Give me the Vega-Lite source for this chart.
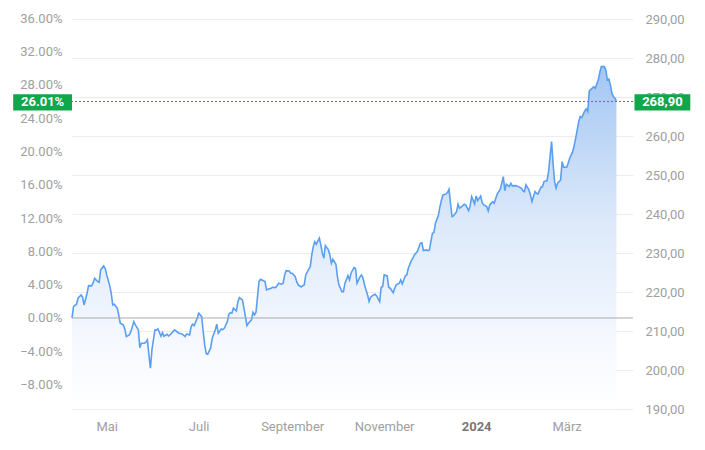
{
  "$schema": "https://vega.github.io/schema/vega-lite/v6.json",
  "width": 561,
  "height": 391.2,
  "padding": {"left": 72, "top": 18.03, "right": 72, "bottom": 40.77},
  "autosize": {"type": "none"},
  "background": "#ffffff",
  "config": {"view": {"stroke": null}, "font": "Roboto"},
  "layer": [
    {
      "data": {"values": [
    {"date": "2023-04-08", "price": 213.4}, {"date": "2023-04-09", "price": 216.31}, {"date": "2023-04-11", "price": 216.92}, {"date": "2023-04-12", "price": 218.46}, {"date": "2023-04-14", "price": 219.31}, {"date": "2023-04-15", "price": 218.79}, {"date": "2023-04-16", "price": 216.74}, {"date": "2023-04-18", "price": 219.74}, {"date": "2023-04-19", "price": 221.69}, {"date": "2023-04-21", "price": 221.62}, {"date": "2023-04-22", "price": 222.38}, {"date": "2023-04-23", "price": 223.59}, {"date": "2023-04-25", "price": 222.72}, {"date": "2023-04-26", "price": 222.56}, {"date": "2023-04-27", "price": 225.72}, {"date": "2023-04-29", "price": 226.74}, {"date": "2023-04-30", "price": 226.15},
    {"date": "2023-05-01", "price": 224.44}, {"date": "2023-05-03", "price": 221.69}, {"date": "2023-05-04", "price": 219.74}, {"date": "2023-05-05", "price": 216.74}, {"date": "2023-05-06", "price": 216.92}, {"date": "2023-05-08", "price": 215.9}, {"date": "2023-05-09", "price": 214.18}, {"date": "2023-05-10", "price": 212.05}, {"date": "2023-05-12", "price": 211.62}, {"date": "2023-05-13", "price": 210.59}, {"date": "2023-05-14", "price": 208.62}, {"date": "2023-05-16", "price": 209.05}, {"date": "2023-05-17", "price": 209.9}, {"date": "2023-05-18", "price": 211.18}, {"date": "2023-05-19", "price": 212.46}, {"date": "2023-05-20", "price": 211.62}, {"date": "2023-05-22", "price": 210.33}, {"date": "2023-05-23", "price": 205.79}, {"date": "2023-05-24", "price": 206.92}, {"date": "2023-05-26", "price": 206.92}, {"date": "2023-05-27", "price": 207.18}, {"date": "2023-05-28", "price": 207.77}, {"date": "2023-05-29", "price": 203.92}, {"date": "2023-05-30", "price": 200.51}, {"date": "2023-05-31", "price": 205.21},
    {"date": "2023-06-02", "price": 210.33}, {"date": "2023-06-03", "price": 210.26}, {"date": "2023-06-04", "price": 210.59}, {"date": "2023-06-06", "price": 208.72}, {"date": "2023-06-07", "price": 209.64}, {"date": "2023-06-08", "price": 208.72}, {"date": "2023-06-10", "price": 209.23}, {"date": "2023-06-11", "price": 208.79}, {"date": "2023-06-12", "price": 209.05}, {"date": "2023-06-14", "price": 209.9}, {"date": "2023-06-15", "price": 210.33}, {"date": "2023-06-17", "price": 209.74}, {"date": "2023-06-18", "price": 209.49}, {"date": "2023-06-20", "price": 209.31}, {"date": "2023-06-22", "price": 208.62}, {"date": "2023-06-23", "price": 209.31}, {"date": "2023-06-25", "price": 209.05}, {"date": "2023-06-26", "price": 211.18}, {"date": "2023-06-27", "price": 211.79}, {"date": "2023-06-28", "price": 211.44}, {"date": "2023-06-30", "price": 213.33},
    {"date": "2023-07-01", "price": 214.62}, {"date": "2023-07-03", "price": 213.74}, {"date": "2023-07-04", "price": 209.9}, {"date": "2023-07-05", "price": 206.49}, {"date": "2023-07-06", "price": 204.26}, {"date": "2023-07-07", "price": 204.1}, {"date": "2023-07-09", "price": 205.79}, {"date": "2023-07-10", "price": 208.21}, {"date": "2023-07-12", "price": 210.33}, {"date": "2023-07-13", "price": 211.79}, {"date": "2023-07-14", "price": 209.49}, {"date": "2023-07-16", "price": 210.59}, {"date": "2023-07-17", "price": 210.41}, {"date": "2023-07-18", "price": 210.77}, {"date": "2023-07-20", "price": 212.46}, {"date": "2023-07-21", "price": 214.36}, {"date": "2023-07-22", "price": 214.77}, {"date": "2023-07-23", "price": 214.62}, {"date": "2023-07-24", "price": 215.9}, {"date": "2023-07-26", "price": 215.21}, {"date": "2023-07-27", "price": 217.59}, {"date": "2023-07-28", "price": 218.62}, {"date": "2023-07-30", "price": 218.03}, {"date": "2023-07-31", "price": 215.9},
    {"date": "2023-08-01", "price": 213.74}, {"date": "2023-08-02", "price": 211.44}, {"date": "2023-08-03", "price": 212.05}, {"date": "2023-08-05", "price": 212.9}, {"date": "2023-08-06", "price": 214.87}, {"date": "2023-08-07", "price": 214.18}, {"date": "2023-08-08", "price": 214.87}, {"date": "2023-08-10", "price": 222.72}, {"date": "2023-08-11", "price": 223.33}, {"date": "2023-08-12", "price": 223.15}, {"date": "2023-08-14", "price": 222.72}, {"date": "2023-08-15", "price": 220.59}, {"date": "2023-08-16", "price": 220.77}, {"date": "2023-08-18", "price": 221.03}, {"date": "2023-08-19", "price": 221.28}, {"date": "2023-08-21", "price": 221.18}, {"date": "2023-08-22", "price": 221.62}, {"date": "2023-08-23", "price": 222.31}, {"date": "2023-08-25", "price": 222.05}, {"date": "2023-08-26", "price": 222.31}, {"date": "2023-08-27", "price": 224.44}, {"date": "2023-08-28", "price": 225.54}, {"date": "2023-08-30", "price": 225.46}, {"date": "2023-08-31", "price": 224.87},
    {"date": "2023-09-01", "price": 224.87}, {"date": "2023-09-03", "price": 224.0}, {"date": "2023-09-04", "price": 222.72}, {"date": "2023-09-05", "price": 221.87}, {"date": "2023-09-07", "price": 221.36}, {"date": "2023-09-08", "price": 221.69}, {"date": "2023-09-09", "price": 221.87}, {"date": "2023-09-10", "price": 224.44}, {"date": "2023-09-12", "price": 225.9}, {"date": "2023-09-13", "price": 226.56}, {"date": "2023-09-14", "price": 229.56}, {"date": "2023-09-15", "price": 231.69}, {"date": "2023-09-16", "price": 232.97}, {"date": "2023-09-17", "price": 232.31}, {"date": "2023-09-19", "price": 233.85}, {"date": "2023-09-20", "price": 232.13}, {"date": "2023-09-21", "price": 230.0}, {"date": "2023-09-22", "price": 228.72}, {"date": "2023-09-23", "price": 231.95}, {"date": "2023-09-25", "price": 230.85}, {"date": "2023-09-26", "price": 229.56}, {"date": "2023-09-27", "price": 227.44}, {"date": "2023-09-28", "price": 228.46}, {"date": "2023-09-30", "price": 227.18},
    {"date": "2023-10-01", "price": 224.0}, {"date": "2023-10-02", "price": 221.87}, {"date": "2023-10-04", "price": 220.15}, {"date": "2023-10-05", "price": 220.15}, {"date": "2023-10-06", "price": 222.31}, {"date": "2023-10-08", "price": 224.26}, {"date": "2023-10-09", "price": 223.15}, {"date": "2023-10-10", "price": 224.87}, {"date": "2023-10-12", "price": 226.31}, {"date": "2023-10-13", "price": 226.15}, {"date": "2023-10-14", "price": 222.31}, {"date": "2023-10-16", "price": 224.0}, {"date": "2023-10-17", "price": 224.44}, {"date": "2023-10-18", "price": 223.59}, {"date": "2023-10-19", "price": 221.87}, {"date": "2023-10-21", "price": 219.31}, {"date": "2023-10-22", "price": 217.59}, {"date": "2023-10-23", "price": 218.72}, {"date": "2023-10-25", "price": 219.31}, {"date": "2023-10-26", "price": 219.49}, {"date": "2023-10-27", "price": 219.05}, {"date": "2023-10-29", "price": 217.59}, {"date": "2023-10-30", "price": 221.28}, {"date": "2023-10-31", "price": 221.44},
    {"date": "2023-11-01", "price": 224.44}, {"date": "2023-11-03", "price": 224.18}, {"date": "2023-11-04", "price": 221.28}, {"date": "2023-11-05", "price": 221.03}, {"date": "2023-11-07", "price": 219.9}, {"date": "2023-11-08", "price": 221.03}, {"date": "2023-11-09", "price": 221.87}, {"date": "2023-11-11", "price": 222.31}, {"date": "2023-11-12", "price": 223.15}, {"date": "2023-11-13", "price": 222.13}, {"date": "2023-11-15", "price": 224.18}, {"date": "2023-11-16", "price": 224.44}, {"date": "2023-11-17", "price": 226.15}, {"date": "2023-11-19", "price": 228.1}, {"date": "2023-11-20", "price": 228.72}, {"date": "2023-11-21", "price": 229.56}, {"date": "2023-11-23", "price": 230.41}, {"date": "2023-11-24", "price": 231.54}, {"date": "2023-11-25", "price": 232.56}, {"date": "2023-11-26", "price": 232.72}, {"date": "2023-11-27", "price": 230.67}, {"date": "2023-11-29", "price": 230.85}, {"date": "2023-11-30", "price": 230.67},
    {"date": "2023-12-01", "price": 230.85}, {"date": "2023-12-03", "price": 235.13}, {"date": "2023-12-04", "price": 235.28}, {"date": "2023-12-05", "price": 237.69}, {"date": "2023-12-07", "price": 239.82}, {"date": "2023-12-08", "price": 241.95}, {"date": "2023-12-09", "price": 243.67}, {"date": "2023-12-10", "price": 244.95}, {"date": "2023-12-12", "price": 245.21}, {"date": "2023-12-13", "price": 245.54}, {"date": "2023-12-14", "price": 246.41}, {"date": "2023-12-15", "price": 242.82}, {"date": "2023-12-16", "price": 239.38}, {"date": "2023-12-17", "price": 239.56}, {"date": "2023-12-19", "price": 240.67}, {"date": "2023-12-20", "price": 242.56}, {"date": "2023-12-21", "price": 241.54}, {"date": "2023-12-23", "price": 242.13}, {"date": "2023-12-24", "price": 242.56}, {"date": "2023-12-25", "price": 242.38}, {"date": "2023-12-27", "price": 240.92}, {"date": "2023-12-28", "price": 242.13}, {"date": "2023-12-29", "price": 244.51}, {"date": "2023-12-31", "price": 242.64},
    {"date": "2024-01-01", "price": 244.69}, {"date": "2024-01-02", "price": 243.49}, {"date": "2024-01-04", "price": 244.69}, {"date": "2024-01-05", "price": 242.97}, {"date": "2024-01-06", "price": 242.38}, {"date": "2024-01-08", "price": 241.95}, {"date": "2024-01-09", "price": 240.85}, {"date": "2024-01-10", "price": 242.38}, {"date": "2024-01-12", "price": 243.23}, {"date": "2024-01-13", "price": 242.82}, {"date": "2024-01-14", "price": 244.1}, {"date": "2024-01-15", "price": 245.21}, {"date": "2024-01-17", "price": 246.41}, {"date": "2024-01-19", "price": 249.64}, {"date": "2024-01-20", "price": 246.05}, {"date": "2024-01-21", "price": 247.69}, {"date": "2024-01-23", "price": 247.08}, {"date": "2024-01-24", "price": 247.95}, {"date": "2024-01-25", "price": 247.26}, {"date": "2024-01-27", "price": 247.33}, {"date": "2024-01-28", "price": 247.26}, {"date": "2024-01-29", "price": 247.08}, {"date": "2024-01-31", "price": 246.67},
    {"date": "2024-02-01", "price": 246.05}, {"date": "2024-02-02", "price": 245.79}, {"date": "2024-02-03", "price": 247.51}, {"date": "2024-02-05", "price": 246.23}, {"date": "2024-02-06", "price": 244.95}, {"date": "2024-02-07", "price": 243.23}, {"date": "2024-02-09", "price": 245.79}, {"date": "2024-02-10", "price": 245.38}, {"date": "2024-02-11", "price": 245.21}, {"date": "2024-02-13", "price": 246.92}, {"date": "2024-02-14", "price": 247.08}, {"date": "2024-02-15", "price": 248.36}, {"date": "2024-02-17", "price": 248.62}, {"date": "2024-02-18", "price": 250.92}, {"date": "2024-02-19", "price": 254.77}, {"date": "2024-02-20", "price": 258.62}, {"date": "2024-02-21", "price": 253.08}, {"date": "2024-02-22", "price": 248.36}, {"date": "2024-02-23", "price": 246.67}, {"date": "2024-02-24", "price": 247.95}, {"date": "2024-02-26", "price": 248.79}, {"date": "2024-02-27", "price": 253.49}, {"date": "2024-02-28", "price": 252.05},
    {"date": "2024-03-01", "price": 252.05}, {"date": "2024-03-02", "price": 253.08}, {"date": "2024-03-03", "price": 254.36}, {"date": "2024-03-05", "price": 256.05}, {"date": "2024-03-06", "price": 257.59}, {"date": "2024-03-07", "price": 259.49}, {"date": "2024-03-09", "price": 263.74}, {"date": "2024-03-10", "price": 265.03}, {"date": "2024-03-11", "price": 264.77}, {"date": "2024-03-13", "price": 266.49}, {"date": "2024-03-14", "price": 267.0}, {"date": "2024-03-15", "price": 266.31}, {"date": "2024-03-16", "price": 271.62}, {"date": "2024-03-18", "price": 272.31}, {"date": "2024-03-19", "price": 272.72}, {"date": "2024-03-20", "price": 272.31}, {"date": "2024-03-22", "price": 274.44}, {"date": "2024-03-23", "price": 276.41}, {"date": "2024-03-24", "price": 277.85}, {"date": "2024-03-26", "price": 277.85}, {"date": "2024-03-27", "price": 277.0}, {"date": "2024-03-28", "price": 274.44}, {"date": "2024-03-29", "price": 274.69}, {"date": "2024-03-30", "price": 273.15}, {"date": "2024-03-31", "price": 271.03},
    {"date": "2024-04-01", "price": 270.15}, {"date": "2024-04-02", "price": 269.74}, {"date": "2024-04-03", "price": 268.9}
      ]},
      "layer": [
        {
          "mark": {"type": "area", "line": false, "color": {"gradient": "linear", "x1": 0, "y1": 0, "x2": 0, "y2": 1, "stops": [{"offset": 0, "color": "#a3c6f3"}, {"offset": 0.45, "color": "#dce9fa"}, {"offset": 0.8, "color": "#f5f8fe"}, {"offset": 1, "color": "#ffffff"}]}},
          "encoding": {
            "x": {"field": "date", "type": "temporal", "title": null, "scale": {"type": "utc", "domain": [{"year": 2023, "month": 4, "date": 8, "utc": true}, {"year": 2024, "month": 4, "date": 14, "utc": true}]},
              "axis": {"title": null, "grid": false, "domain": false, "ticks": false, "labelPadding": 11, "labelFontSize": 13, "labelFont": "Roboto", "labelOverlap": false,
                "values": [{"year": 2023, "month": 5, "date": 1, "utc": true}, {"year": 2023, "month": 7, "date": 1, "utc": true}, {"year": 2023, "month": 9, "date": 1, "utc": true}, {"year": 2023, "month": 11, "date": 1, "utc": true}, {"year": 2024, "month": 1, "date": 1, "utc": true}, {"year": 2024, "month": 3, "date": 1, "utc": true}],
                "labelExpr": "utcmonth(datum.value) == 0 ? '' + utcyear(datum.value) : ['Januar','Februar','März','April','Mai','Juni','Juli','August','September','Oktober','November','Dezember'][utcmonth(datum.value)]",
                "labelColor": {"condition": {"test": "utcmonth(datum.value) == 0", "value": "#777777"}, "value": "#a0a0a0"},
                "labelFontWeight": {"condition": {"test": "utcmonth(datum.value) == 0", "value": "bold"}, "value": "normal"}}},
            "y": {"field": "price", "type": "quantitative", "title": null, "scale": {"domain": [190, 290.3], "nice": false, "zero": false},
              "axis": {"orient": "right", "title": null, "domain": false, "ticks": false, "grid": true, "gridColor": "#ececec", "gridWidth": 1, "labelOverlap": false, "tickCount": 11,
                "values": [190, 200, 210, 220, 230, 240, 250, 260, 270, 280, 290], "labelExpr": "replace(format(datum.value, '.2f'), '.', ',')",
                "labelPadding": 12, "labelFontSize": 13, "labelFont": "Roboto", "labelColor": "#a0a0a0"}},
            "y2": {"datum": 190}
          }
        },
        {
          "mark": {"type": "line", "color": "#5a9ff0", "strokeWidth": 1.6, "interpolate": "linear"},
          "encoding": {
            "x": {"field": "date", "type": "temporal", "title": null},
            "y": {"field": "price", "type": "quantitative", "title": null,
              "axis": {"orient": "right", "title": null, "domain": false, "ticks": false, "grid": true, "gridColor": "#ececec", "gridWidth": 1, "labelOverlap": false, "tickCount": 11,
                "values": [190, 200, 210, 220, 230, 240, 250, 260, 270, 280, 290], "labelExpr": "replace(format(datum.value, '.2f'), '.', ',')",
                "labelPadding": 12, "labelFontSize": 13, "labelFont": "Roboto", "labelColor": "#a0a0a0"}}
          }
        }
      ]
    },
    {
      "data": {"values": [{"pct": 26.01, "price": 268.9, "pctLabel": "26.01%", "priceLabel": "268,90"}]},
      "layer": [
        {
          "mark": {"type": "rule", "color": "#12ad4c", "strokeWidth": 1, "strokeDash": [2, 2]},
          "encoding": {"y": {"field": "price", "type": "quantitative", "title": null, "axis": null, "scale": {"domain": [190, 290.3], "nice": false, "zero": false}}}
        },
        {
          "mark": {"type": "rect", "color": "#10a64a"},
          "encoding": {
            "x": {"datum": {"year": 2023, "month": 2, "date": 28, "utc": true}, "type": "temporal", "title": null},
            "x2": {"datum": {"year": 2023, "month": 4, "date": 8, "utc": true}},
            "y": {"datum": 270.76, "type": "quantitative", "title": null, "axis": null},
            "y2": {"datum": 266.56}
          }
        },
        {
          "mark": {"type": "rect", "color": "#10a64a"},
          "encoding": {
            "x": {"datum": {"year": 2024, "month": 4, "date": 15, "utc": true}, "type": "temporal", "title": null},
            "x2": {"datum": {"year": 2024, "month": 5, "date": 22, "utc": true}},
            "y": {"datum": 270.76, "type": "quantitative", "title": null, "axis": null},
            "y2": {"datum": 266.56}
          }
        },
        {
          "mark": {"type": "text", "color": "#ffffff", "font": "Roboto", "fontSize": 13, "fontWeight": "bold", "align": "center", "baseline": "middle", "dy": 1},
          "encoding": {
            "x": {"datum": {"year": 2023, "month": 3, "date": 19, "hours": 12, "utc": true}, "type": "temporal", "title": null},
            "y": {"field": "price", "type": "quantitative", "title": null, "axis": null},
            "text": {"field": "pctLabel"}
          }
        },
        {
          "mark": {"type": "text", "color": "#ffffff", "font": "Roboto", "fontSize": 13, "fontWeight": "bold", "align": "center", "baseline": "middle", "dy": 1},
          "encoding": {
            "x": {"datum": {"year": 2024, "month": 5, "date": 3, "hours": 12, "utc": true}, "type": "temporal", "title": null},
            "y": {"field": "price", "type": "quantitative", "title": null, "axis": null},
            "text": {"field": "priceLabel"}
          }
        }
      ]
    },
    {
      "data": {"values": [{"pct": 0}]},
      "mark": {"type": "rule", "color": "#a9a9b2", "strokeWidth": 1},
      "encoding": {
        "y": {"field": "pct", "type": "quantitative", "title": null, "scale": {"domain": [-10.964, 36.039], "nice": false, "zero": false},
          "axis": {"orient": "left", "title": null, "domain": false, "ticks": false, "grid": false, "labelOverlap": false,
            "values": [-8, -4, 0, 4, 8, 12, 16, 20, 24, 28, 32, 36], "labelExpr": "format(datum.value, '.2f') + '%'",
            "labelPadding": 10, "labelFontSize": 13, "labelFont": "Roboto", "labelColor": "#a0a0a0"}}
      }
    }
  ],
  "resolve": {"scale": {"y": "independent"}}
}
